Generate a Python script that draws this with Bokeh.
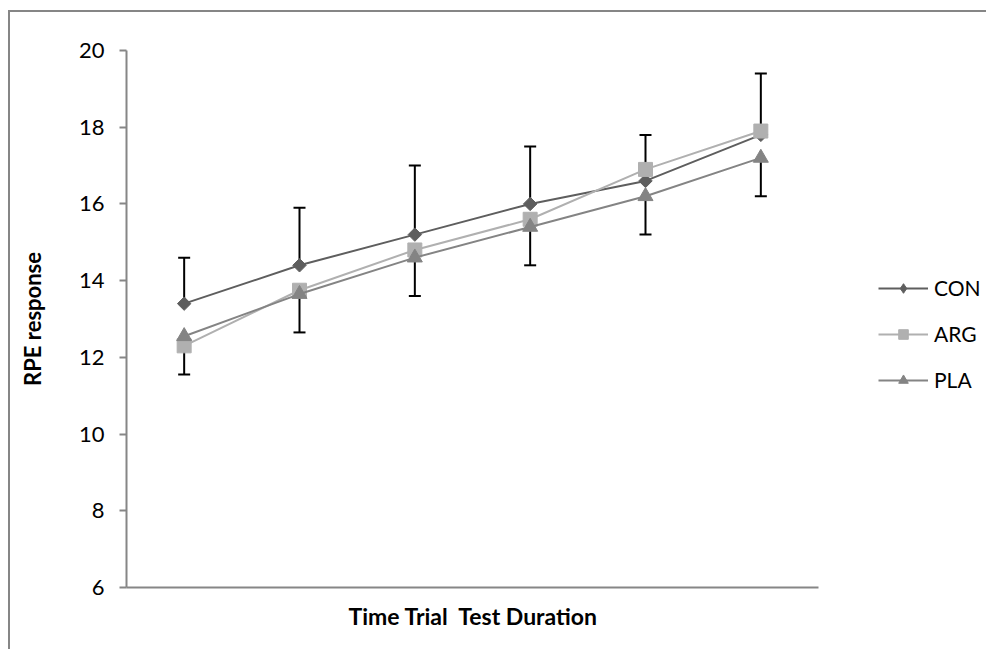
import numpy as np
from bokeh.plotting import figure
from bokeh.models import (Range1d, FixedTicker, Whisker, TeeHead, ColumnDataSource,
                          Legend, LegendItem, Title)
from bokeh.embed import file_html
from bokeh.resources import INLINE

# ---- data ----
stages = [1, 2, 3, 4, 5, 6]
con = [13.4, 14.4, 15.2, 16.0, 16.6, 17.8]
arg = [12.3, 13.75, 14.8, 15.6, 16.9, 17.9]
pla = [12.55, 13.65, 14.6, 15.4, 16.2, 17.2]
con_err_up = [1.2, 1.5, 1.8, 1.5, 1.2, 1.6]
pla_err_down = [1.0, 1.0, 1.0, 1.0, 1.0, 1.0]
y_ticks = [6, 8, 10, 12, 14, 16, 18, 20]
series_names = ["CON", "ARG", "PLA"]
x_title = "Time Trial\u00a0 Test Duration"
y_title = "RPE response"

FONT = "Lato"
AXIS_COLOR = "#868686"

# plot-area geometry (pixels): axis spans 126..818, the frame extends further for the legend
AX_L, AX_R, FR_R = 126, 818, 986
x_end = 0.5 + len(stages) * (FR_R - AX_L) / (AX_R - AX_L)

p = figure(width=978, height=639, output_backend="svg", toolbar_location=None,
           x_range=Range1d(0.5, x_end), y_range=Range1d(6, 20),
           min_border_left=116, min_border_right=2, min_border_top=38,
           min_border_bottom=64)
p.margin = (10, 0, 0, 8)
p.styles = {"border-style": "solid none none solid", "border-width": "2px 0px 0px 2px",
            "border-color": AXIS_COLOR}
p.outline_line_color = None
p.xgrid.visible = False
p.ygrid.visible = False

# error bars
src_con = ColumnDataSource(dict(x=stages, lower=con,
                                upper=[c + e for c, e in zip(con, con_err_up)]))
src_pla = ColumnDataSource(dict(x=stages, upper=pla,
                                lower=[v - e for v, e in zip(pla, pla_err_down)]))
w_up = Whisker(base="x", lower="lower", upper="upper", source=src_con,
               dimension="height", line_color="black", line_width=2,
               upper_head=TeeHead(size=12, line_width=2, line_color="black"),
               lower_head=None, level="underlay")
w_dn = Whisker(base="x", lower="lower", upper="upper", source=src_pla,
               dimension="height", line_color="black", line_width=2,
               lower_head=TeeHead(size=12, line_width=2, line_color="black"),
               upper_head=None, level="underlay")
p.add_layout(w_up)
p.add_layout(w_dn)

colors = ["#5e5e5e", "#b0b0b0", "#848484"]
values = [con, arg, pla]
markers = [("square", np.pi / 4, 9.5), ("square", 0, 14), ("triangle", 0, 15)]
legend_markers = [("diamond", 17), ("square", 14), ("triangle", 15)]

items = []
for name, vals, col, (mk, ang, sz), (lmk, lsz) in zip(series_names, values, colors,
                                                      markers, legend_markers):
    lr = p.line(stages, vals, line_color=col, line_width=2)
    sr = p.scatter(stages, vals, marker=mk, angle=ang, size=sz,
                   fill_color=col, line_color=col)
    # hidden renderer used only for the legend swatch (legend swatches ignore angle)
    lg = p.scatter(stages, vals, marker=lmk, size=lsz, fill_color=col,
                   line_color=col, visible=False)
    items.append(LegendItem(label=name, renderers=[lr, lg]))

legend = Legend(items=items, location=(AX_R - AX_L + 60, 195), orientation="vertical",
                border_line_alpha=0, background_fill_alpha=0, padding=0, margin=0,
                glyph_width=50, glyph_height=24, label_height=24, label_standoff=6,
                spacing=21, label_text_font=FONT, label_text_font_size="21px",
                label_text_color="black", inactive_fill_alpha=0)
p.add_layout(legend)

# y axis
ya = p.yaxis[0]
ya.ticker = FixedTicker(ticks=y_ticks)
ya.axis_line_color = AXIS_COLOR
ya.axis_line_width = 2
ya.major_tick_line_color = AXIS_COLOR
ya.major_tick_line_width = 2
ya.major_tick_out = 7
ya.major_tick_in = 0
ya.minor_tick_line_color = None
ya.major_label_text_font = FONT
ya.major_label_text_font_size = "22px"
ya.major_label_text_color = "black"
ya.major_label_standoff = 15
ya.axis_label = y_title
ya.axis_label_text_font = FONT
ya.axis_label_text_font_style = "bold"
ya.axis_label_text_font_size = "22px"
ya.axis_label_text_color = "black"
ya.axis_label_standoff = 30

# x axis (line limited to the category span)
xa = p.xaxis[0]
xa.ticker = FixedTicker(ticks=[])
xa.bounds = (0.5, len(stages) + 0.5)
xa.axis_line_color = AXIS_COLOR
xa.axis_line_width = 2
xa.major_tick_line_color = None
xa.minor_tick_line_color = None
xa.major_tick_out = 0
xa.major_label_standoff = 0

xt = Title(text=x_title, align="left", offset=348 - AX_L, text_font=FONT,
           text_font_style="bold", text_font_size="23px", text_color="black",
           standoff=25)
p.add_layout(xt, "below")

open("out.html", "w").write(file_html(p, INLINE))
